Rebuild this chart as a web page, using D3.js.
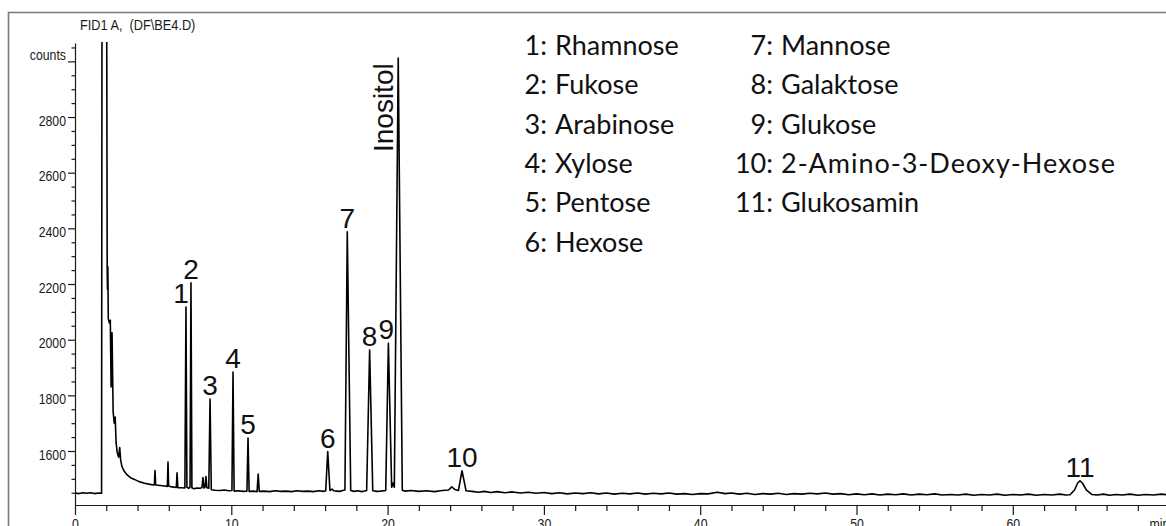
<!DOCTYPE html>
<html>
<head>
<meta charset="utf-8">
<script src="https://cdn.jsdelivr.net/npm/d3@7"></script>
<style>
  html, body { margin: 0; padding: 0; background: #fff; }
  svg { display: block; }
  .ax text { font-family: "Liberation Sans", Arial, sans-serif; font-size: 15px; fill: #1a1a1a; }
  .ax path, .ax line { stroke: #1a1a1a; stroke-width: 1.2; }
</style>
</head>
<body>
<svg id="chart" width="1166" height="526"></svg>
<script>
// ---- FID signal: retention time (min) vs detector counts ----
const traceStart = [
  [0.00,1449],[0.25,1447],[0.50,1450],[0.75,1448],[1.00,1450],[1.25,1447],[1.50,1449],[1.70,1448]
];
const traceSolvent = [
  [1.73,3400],[2.02,3400],[2.06,2245],[2.08,2180],[2.10,2262],[2.13,2075],[2.20,2060],[2.26,2070],
  [2.31,1830],[2.37,2025],[2.44,1740],[2.51,1700],[2.57,1722],[2.63,1630],[2.70,1595],[2.79,1578],
  [2.86,1612],[2.92,1568],[3.00,1545],[3.12,1530],[3.30,1516],[3.55,1504],[3.80,1498],[4.10,1490],
  [4.45,1484],[4.80,1480],[5.05,1478]
];
const traceSugars = [
  [5.08,1479],[5.12,1530],[5.16,1478],[5.45,1476],[5.75,1474],[5.91,1473],[5.95,1560],[5.99,1474],
  [6.20,1471],[6.48,1469],[6.53,1522],[6.58,1468],[6.80,1468],[7.03,1467],[7.10,2117],[7.16,1470],
  [7.28,1466],[7.36,1470],[7.42,2204],[7.48,1468],[7.62,1464],[7.80,1467],[7.95,1466],[8.12,1468],
  [8.19,1505],[8.25,1467],[8.32,1470],[8.38,1508],[8.44,1468],[8.56,1466],[8.64,1787],[8.72,1461],
  [8.95,1459],[9.25,1458],[9.55,1460],[9.85,1457],[10.04,1458],[10.11,1884],[10.18,1456],[10.45,1457],
  [10.75,1455],[11.00,1456],[11.07,1647],[11.14,1455],[11.40,1456],[11.65,1454],[11.72,1517],[11.79,1455],
  [12.10,1456],[12.45,1454],[12.80,1457],[13.15,1455],[13.50,1456],[13.85,1454],[14.20,1457],[14.55,1455],
  [14.90,1456],[15.25,1454],[15.60,1457],[15.90,1455],[16.04,1457],[16.17,1598],[16.31,1458],[16.45,1463],
  [16.55,1457],[16.75,1456],[16.95,1455],[17.12,1458],[17.27,1460],[17.42,2388],[17.64,1458],[17.85,1455],
  [18.10,1457],[18.35,1454],[18.52,1456],[18.66,1458],[18.85,1963],[19.05,1457],[19.30,1455],[19.55,1456],
  [19.88,1458],[20.05,1987],[20.26,1470],[20.33,1485],[20.43,1470],[20.68,3012],[20.94,1459],[21.10,1456]
];
const traceLate = [
  [21.50,1458],[22.00,1455],[22.50,1457],[23.00,1454],[23.50,1458],[23.90,1460],[24.10,1471],[24.30,1462],
  [24.53,1458],[24.76,1529],[25.02,1457],[25.40,1455],[25.80,1452],[26.20,1455],[26.60,1451],[27.00,1454],
  [27.50,1450],[28.00,1453],[28.50,1449],[29.00,1452],[29.50,1448],[30.00,1451],[30.50,1447],[31.00,1450],
  [31.50,1446],[32.00,1449],[32.50,1447],[33.00,1450],[33.50,1446],[34.00,1449],[34.50,1445],[35.00,1448],
  [35.50,1446],[36.00,1449],[36.50,1445],[37.00,1448],[37.50,1446],[38.00,1449],[38.50,1445],[39.00,1447],
  [39.50,1444],[40.00,1447],[40.50,1446],[41.10,1452],[41.60,1447],[42.00,1449],[42.50,1445],[43.00,1448],
  [43.50,1444],[44.00,1447],[44.50,1445],[45.00,1448],[45.50,1444],[46.00,1447],[46.50,1445],[47.00,1448],
  [47.50,1446],[48.00,1449],[48.50,1445],[49.00,1447],[49.50,1443],[50.00,1446],[50.50,1443],[51.00,1446],
  [51.50,1442],[52.00,1445],[52.50,1443],[53.00,1446],[53.50,1442],[54.00,1445],[54.50,1443],[55.00,1446],
  [55.50,1442],[56.00,1444],[56.50,1442],[57.00,1445],[57.50,1441],[58.00,1444],[58.50,1442],[59.00,1445],
  [59.50,1441],[60.00,1444],[60.50,1442],[61.00,1445],[61.50,1441],[62.00,1444],[62.50,1442],[63.00,1445],
  [63.40,1442],[63.66,1443],[63.95,1460],[64.15,1485],[64.30,1493],[64.45,1485],[64.70,1460],[65.05,1444],
  [65.40,1442],[65.80,1445],[66.20,1441],[66.60,1444],[67.00,1442],[67.50,1445],[68.00,1441],[68.50,1444],
  [69.00,1442],[69.50,1445],[70.00,1442]
];

// ---- numbered peaks: label, retention time, apex counts ----
const peakLabels = ["1","2","3","4","5","6","7","8","9","10","11"];
const peakTimes  = [7.10, 7.42, 8.64, 10.11, 11.07, 16.17, 17.42, 18.85, 20.05, 24.76, 64.30];
const peakApex   = [2117, 2204, 1787, 1884, 1647, 1598, 2388, 1963, 1987, 1529, 1493];
const inositolTime = 20.68, inositolApex = 3012;

// ---- compound key ----
const compounds = ["Rhamnose","Fukose","Arabinose","Xylose","Pentose","Hexose",
                   "Mannose","Galaktose","Glukose","2-Amino-3-Deoxy-Hexose","Glukosamin"];

// ---- axes ----
const xTickValues = [0, 10, 20, 30, 40, 50, 60];
const yTickValues = [1600, 1800, 2000, 2200, 2400, 2600, 2800];
const countsTick = 3000;
const chartTitle = "FID1 A,  (DF\\BE4.D)";

const svg = d3.select("#chart");
const x = d3.scaleLinear().domain([0, 70]).range([75, 1169.1]);
const y = d3.scaleLinear().domain([1406, 3066]).range([505, 43]);
const narrow = "scale(0.82,1)";

// outer frame
svg.append("path")
  .attr("d", "M8.5,526V12.5H1166")
  .attr("fill", "none").attr("stroke", "#7a7a7a").attr("stroke-width", 1.6);

// title
svg.append("g").attr("transform", "translate(80,29.5)")
  .append("text").attr("transform", "scale(0.85,1)")
  .style("font-family", '"Liberation Sans", Arial, sans-serif').style("font-size", "15px").style("fill", "#1a1a1a")
  .style("white-space", "pre")
  .text(chartTitle);

// y axis: minor ticks, then labelled ticks
const yMinor = d3.range(1450, 3051, 50).filter(v => !yTickValues.includes(v) && v !== countsTick);
svg.append("g").attr("class", "ax").attr("transform", "translate(75,0)")
  .call(d3.axisLeft(y).tickValues(yMinor).tickSize(3.5).tickSizeOuter(0).tickFormat(""))
  .call(g => g.select(".domain").remove());
const yAx = svg.append("g").attr("class", "ax").attr("transform", "translate(75,0)")
  .call(d3.axisLeft(y).tickValues([...yTickValues, countsTick]).tickSize(7).tickSizeOuter(0).tickPadding(4)
    .tickFormat(d => d === countsTick ? "counts" : d));
yAx.selectAll(".tick text")
  .attr("transform", narrow)
  .attr("dy", d => d === countsTick ? "-0.1em" : "0.55em");

// x axis
const xMinor = d3.range(2, 70, 2).filter(v => v % 10 !== 0);
svg.append("g").attr("class", "ax").attr("transform", "translate(0,505)")
  .call(d3.axisBottom(x).tickValues(xMinor).tickSize(6).tickSizeOuter(0).tickFormat(""))
  .call(g => g.select(".domain").remove());
const xAx = svg.append("g").attr("class", "ax").attr("transform", "translate(0,505)")
  .call(d3.axisBottom(x).tickValues(xTickValues).tickSize(10).tickSizeOuter(0).tickPadding(3));
xAx.selectAll(".tick text").attr("transform", narrow);
xAx.append("g").attr("transform", `translate(${x(68.75)},13)`)
  .append("text").attr("transform", narrow).attr("dy", "0.71em")
  .attr("text-anchor", "start").attr("fill", "#1a1a1a").text("min");

// signal trace
svg.append("clipPath").attr("id", "plotClip")
  .append("rect").attr("x", 75).attr("y", 42).attr("width", 1100).attr("height", 463);
const trace = [...traceStart, ...traceSolvent, ...traceSugars, ...traceLate];
svg.append("path")
  .datum(trace)
  .attr("clip-path", "url(#plotClip)")
  .attr("fill", "none").attr("stroke", "#000").attr("stroke-width", 1.6)
  .attr("stroke-linejoin", "round")
  .attr("d", d3.line().x(d => x(d[0])).y(d => y(d[1])));

// peak numbers
const labelShift = { "1": -5, "9": -2 };
svg.append("g").selectAll("text")
  .data(peakLabels.map((l, i) => ({ l, t: peakTimes[i], c: peakApex[i] })))
  .join("text")
  .attr("x", d => x(d.t) + (labelShift[d.l] || 0))
  .attr("y", d => y(d.c) - 4)
  .attr("text-anchor", "middle")
  .style("font-family", '"Liberation Sans", Arial, sans-serif').style("font-size", "28px").style("fill", "#111")
  .text(d => d.l);

// rotated inositol label beside its peak
svg.append("text")
  .attr("transform", `translate(${x(inositolTime) - 5},${y(inositolApex) + 94}) rotate(-90)`)
  .style("font-family", '"Liberation Sans", Arial, sans-serif').style("font-size", "28px").style("fill", "#111")
  .text("Inositol");

// compound key, two columns aligned on the colon
const key = svg.append("g")
  .style("font-family", "Lato, 'Open Sans', sans-serif").style("font-size", "27px").style("fill", "#111");
compounds.forEach((name, i) => {
  const col = i < 6 ? 0 : 1;
  const row = col === 0 ? i : i - 6;
  const colonX = col === 0 ? 547 : 773;
  const base = 55 + row * 39.3;
  key.append("text").attr("x", colonX).attr("y", base).attr("text-anchor", "end").text(`${i + 1}:`);
  const t = key.append("text").attr("x", colonX + 8).attr("y", base).text(name);
  if (name.length > 15) t.attr("textLength", 334).attr("lengthAdjust", "spacing");
});
</script>
</body>
</html>
